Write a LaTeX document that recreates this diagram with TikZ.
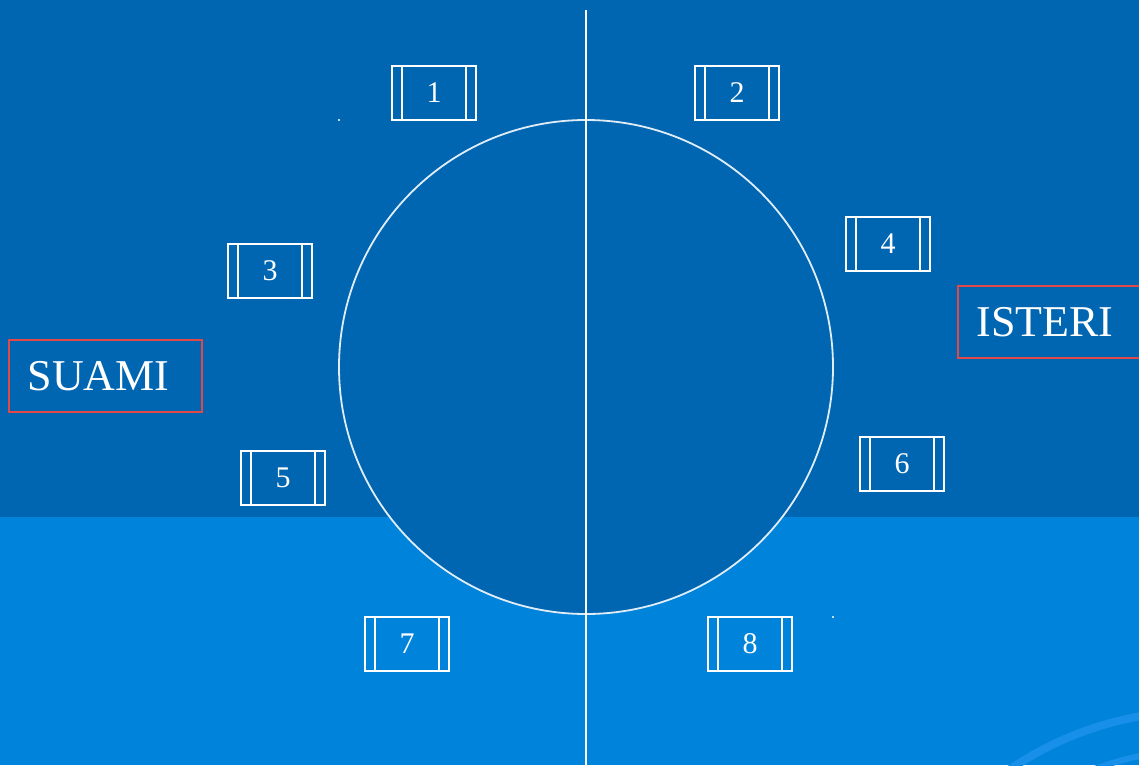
\documentclass[tikz,border=0pt]{standalone}
\usepackage{fontspec}
\setmainfont{Liberation Serif}
\usetikzlibrary{positioning}
\definecolor{slidetop}{RGB}{0,102,178}
\definecolor{slidebottom}{RGB}{0,131,218}
\definecolor{swirl}{RGB}{24,143,233}
\definecolor{labelred}{RGB}{226,72,72}
\begin{document}
\begin{tikzpicture}[
  x=1pt, y=-1pt,
  seat/.style={draw=white, line width=1.4pt, text=white, minimum width=84pt, minimum height=54pt, inner sep=0pt,
    font=\fontsize{30}{34}\selectfont,
    path picture={\draw[white, line width=1.4pt]
      ([xshift=10pt]path picture bounding box.north west) -- ([xshift=10pt]path picture bounding box.south west)
      ([xshift=-10pt]path picture bounding box.north east) -- ([xshift=-10pt]path picture bounding box.south east);}},
  partner/.style={draw=labelred, line width=1.5pt, text=white, anchor=west, align=left, inner xsep=19pt,
    minimum height=72pt, font=\fontsize{44}{50}\selectfont}
]
% slide background
\fill[slidetop] (0,0) rectangle (1139,517);
\fill[slidebottom] (0,517) rectangle (1139,765);
\useasboundingbox (0,0) rectangle (1139,765);
\clip (0,0) rectangle (1139,765);
\draw[swirl, line width=8pt] (1200,1050) circle (339);
\draw[swirl, line width=6pt] (1200,1050) circle (300);

% table and divider
\node[circle, draw=white!88!slidetop, fill=slidetop, line width=1.8pt, minimum size=494pt, inner sep=0pt] (table) at (586,367) {};
\coordinate (divtop) at (586,10);
\coordinate (divbottom) at (586,765);
\draw[white, line width=1.8pt] (divtop) -- (divbottom);
\fill[white] (339,120) circle (1.2);
\fill[white] (833,617) circle (1.2);

% seats
\foreach \n/\x/\y in {1/434/93, 2/737/93, 3/270/271, 4/888/244, 5/283/478, 6/902/464, 7/407/644, 8/750/644}
  \node[seat] (seat\n) at (\x,\y) {\n};

% husband and wife
\node[partner, text width=155pt] (suami) at (8,376) {SUAMI};
\node[partner, text width=180pt] (isteri) at (957,322) {ISTERI};
\end{tikzpicture}
\end{document}
